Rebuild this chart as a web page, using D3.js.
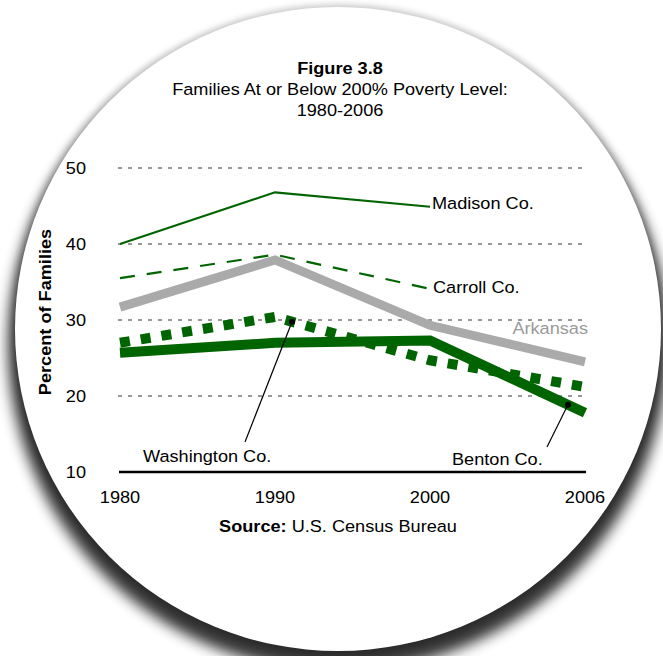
<!DOCTYPE html>
<html>
<head>
<meta charset="utf-8">
<script src="https://cdn.jsdelivr.net/npm/d3@7"></script>
<style>
	body { margin: 0; background: #fff; }
	text { font-family: "Liberation Sans", Arial, Helvetica, sans-serif; }
</style>
</head>
<body>
<script>
// categories
let years = ["1980", "1990", "2000", "2006"];
let yTicks = [10, 20, 30, 40, 50];

// series values (percent of families)
let madison = [40.0, 46.8, 44.9];
let carroll = [35.5, 38.6, 34.1];
let arkansas = [31.7, 37.9, 29.3, 24.5];
let washington = [27.0, 30.4, 24.7, 21.2];
let benton = [25.7, 27.0, 27.3, 17.8];

// text is drawn a bit wider than Liberation Sans
let stretch = 1.1,
	fontSize = 16.5;

let W = 663, H = 656;

let svg = d3.select("body")
			.append("svg")
			.attr("width", W)
			.attr("height", H);

// round page with shadow
let defs = svg.append("defs");
defs.append("filter").attr("id", "blur")
	.attr("x", "-20%").attr("y", "-20%").attr("width", "140%").attr("height", "140%")
	.append("feGaussianBlur").attr("stdDeviation", 7);
defs.append("filter").attr("id", "blur2")
	.attr("x", "-20%").attr("y", "-20%").attr("width", "140%").attr("height", "140%")
	.append("feGaussianBlur").attr("stdDeviation", 3);

svg.append("ellipse")
	.attr("cx", 338).attr("cy", 329).attr("rx", 326).attr("ry", 325)
	.attr("fill", "#000").attr("opacity", 0.18)
	.attr("filter", "url(#blur2)");
svg.append("ellipse")
	.attr("cx", 338).attr("cy", 345).attr("rx", 330).attr("ry", 326)
	.attr("fill", "#000").attr("opacity", 0.8)
	.attr("filter", "url(#blur)");
svg.append("ellipse")
	.attr("cx", 338).attr("cy", 329).attr("rx", 323).attr("ry", 322)
	.attr("fill", "#fff");

// scales
let xScale = d3.scalePoint().domain(years).range([120, 585]),
	yScale = d3.scaleLinear().domain([10, 50]).range([472, 168]);

// helper for stretched text
function label(x, y, str, opts) {
	opts = opts || {};
	let t = svg.append("text")
		.attr("transform", "translate(" + x + "," + y + ")" + (opts.rotate ? " rotate(" + opts.rotate + ")" : "") + " scale(" + stretch + ",1)")
		.attr("font-size", fontSize)
		.attr("fill", opts.fill || "#000")
		.attr("text-anchor", opts.anchor || "start")
		.attr("font-weight", opts.bold ? "bold" : "normal");
	t.text(str);
	return t;
}

// title
label(340, 74, "Figure 3.8", {anchor: "middle", bold: true});
label(340, 95, "Families At or Below 200% Poverty Level:", {anchor: "middle"});
label(340, 116, "1980-2006", {anchor: "middle"});

// gridlines
svg.append("g").selectAll("line")
	.data(yTicks.filter(d => d > 10))
	.join("line")
	.attr("x1", 118).attr("x2", 584)
	.attr("y1", d => yScale(d)).attr("y2", d => yScale(d))
	.attr("stroke", "#333").attr("stroke-width", 1)
	.attr("stroke-dasharray", "4,6");

// baseline at 10
svg.append("line")
	.attr("x1", 119).attr("x2", 586)
	.attr("y1", yScale(10)).attr("y2", yScale(10))
	.attr("stroke", "#000").attr("stroke-width", 2.5);

// y tick labels
yTicks.forEach(function(d) {
	label(86, yScale(d) + 6, d, {anchor: "end"});
});

// x tick labels
years.forEach(function(d) {
	label(xScale(d), 503, d, {anchor: "middle"});
});

// axis title
label(51, 312, "Percent of Families", {anchor: "middle", bold: true, rotate: -90});

// source
let src = label(338, 532, "", {anchor: "middle"});
src.append("tspan").attr("font-weight", "bold").text("Source:");
src.append("tspan").text(" U.S. Census Bureau");

// lines
let line = d3.line()
	.x((d, i) => xScale(years[i]))
	.y(d => yScale(d));

let series = [
	{name: "arkansas", values: arkansas, stroke: "#aaaaaa", width: 9, dash: null},
	{name: "benton", values: benton, stroke: "#006400", width: 10, dash: null},
	{name: "washington", values: washington, stroke: "#006400", width: 10, dash: "10,11"},
	{name: "carroll", values: carroll, stroke: "#006400", width: 2.2, dash: "15,12"},
	{name: "madison", values: madison, stroke: "#006400", width: 2.2, dash: null}
];

svg.append("g").selectAll("path")
	.data(series)
	.join("path")
	.attr("d", d => line(d.values))
	.attr("fill", "none")
	.attr("stroke", d => d.stroke)
	.attr("stroke-width", d => d.width)
	.attr("stroke-dasharray", d => d.dash)
	.attr("stroke-linejoin", "miter")
	.attr("stroke-linecap", "butt");

// point along a series between two categories
function along(values, i, t) {
	let x0 = xScale(years[i]), x1 = xScale(years[i + 1]);
	return [x0 + (x1 - x0) * t, yScale(values[i] + (values[i + 1] - values[i]) * t)];
}

// end labels
label(xScale("2000") + 2, 209, "Madison Co.");
label(xScale("2000") + 3, 293, "Carroll Co.");
label(588, 334, "Arkansas", {anchor: "end", fill: "#9a9a9a"});

// callouts
let callouts = [
	{p: along(washington, 1, 0.11), from: [245, 442]},
	{p: along(benton, 2, 0.89), from: [547, 447]}
];
callouts.forEach(function(c) {
	svg.append("line")
		.attr("x1", c.from[0]).attr("y1", c.from[1])
		.attr("x2", c.p[0]).attr("y2", c.p[1])
		.attr("stroke", "#000").attr("stroke-width", 1.2);
	svg.append("circle")
		.attr("cx", c.p[0]).attr("cy", c.p[1]).attr("r", 3)
		.attr("fill", "#000");
});
label(143, 462, "Washington Co.");
label(452, 465, "Benton Co.");
</script>
</body>
</html>
